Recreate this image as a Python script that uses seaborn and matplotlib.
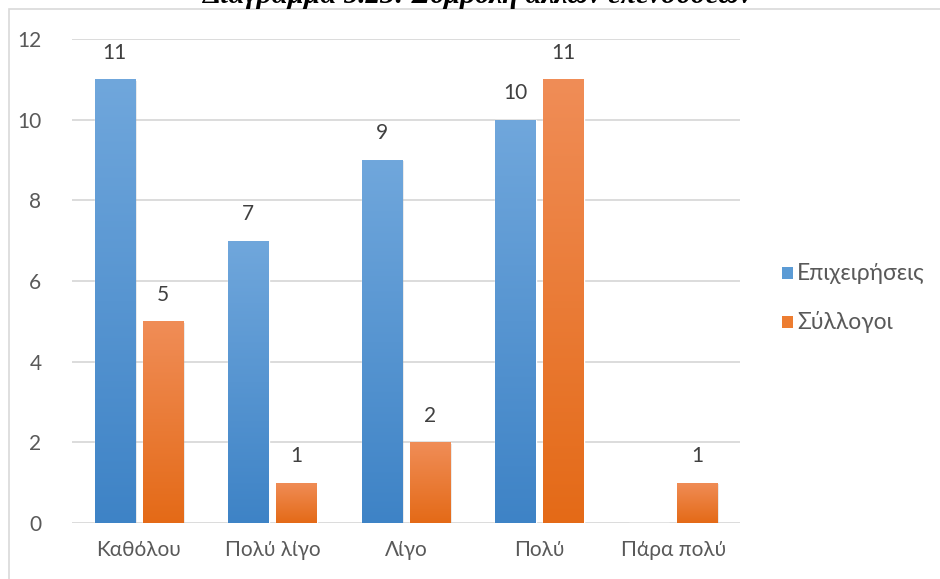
import numpy as np
import pandas as pd
import matplotlib
matplotlib.use("Agg")
import matplotlib.pyplot as plt
import seaborn as sns
from matplotlib.patches import Rectangle
from matplotlib.colors import LinearSegmentedColormap

categories = ["Καθόλου", "Πολύ λίγο", "Λίγο", "Πολύ", "Πάρα πολύ"]
series_names = ["Επιχειρήσεις", "Σύλλογοι"]
epixeiriseis = [11, 7, 9, 10, 0]
syllogoi = [5, 1, 2, 11, 1]
yticks = [0, 2, 4, 6, 8, 10, 12]
title = "Διάγραμμα 5.23: Συμβολή άλλων επενδύσεων"

df = pd.DataFrame({
    "cat": categories * 2,
    "series": [series_names[0]] * len(categories) + [series_names[1]] * len(categories),
    "value": epixeiriseis + syllogoi,
})

sns.set_theme(style="white")
plt.rcParams["font.family"] = ["Lato", "DejaVu Sans"]

W, H = 940, 579
fig = plt.figure(figsize=(W / 100, H / 100), dpi=100)
ax = fig.add_axes([72 / W, 1 - 523 / H, (740 - 72) / W, (523 - 39) / H])

blue = "#5b9bd5"
orange = "#ed7d31"
sns.barplot(data=df, x="cat", y="value", hue="series", order=categories,
            hue_order=series_names, palette=[blue, orange], ax=ax,
            width=0.72, gap=0.16, legend=False, saturation=1)

ax.set_ylim(0, 12)
ax.set_xlim(-0.5, len(categories) - 0.5)
ax.set_yticks(yticks)
ax.yaxis.grid(True, color="#d9d9d9", lw=1.3)
ax.set_axisbelow(True)
for s in ax.spines.values():
    s.set_visible(False)
ax.set_xlabel("")
ax.set_ylabel("")
ax.tick_params(axis="both", length=0, colors="#595959", labelsize=15)
ax.tick_params(axis="y", pad=22)
ax.tick_params(axis="x", pad=12)

cmaps = {
    0: LinearSegmentedColormap.from_list("b", ["#3e83c6", "#70a7dc"]),
    1: LinearSegmentedColormap.from_list("o", ["#e46a17", "#f08d57"]),
}
grad = np.linspace(0, 1, 256).reshape(-1, 1)
n = len(categories)
for i, p in enumerate(ax.patches[: 2 * n]):
    h = p.get_height()
    if h <= 0:
        continue
    x0 = p.get_x()
    w = p.get_width()
    sh = Rectangle((x0 + 0.012, 0), w, h - 0.03, color="black", alpha=0.10, zorder=1.5, lw=0)
    ax.add_patch(sh)
    p.set_zorder(2)
    im = ax.imshow(grad, extent=[x0, x0 + w, 0, h], origin="lower", aspect="auto",
                   cmap=cmaps[i // n], zorder=2.1)
    im.set_clip_path(p)
    ax.annotate(f"{int(h)}", (x0 + w / 2, h), xytext=(0, 12), textcoords="offset points",
                ha="center", va="bottom", fontsize=15, color="#404040")
ax.set_xlim(-0.5, len(categories) - 0.5)
ax.set_ylim(0, 12)

# legend
for k, (name, col) in enumerate(zip(series_names, [blue, orange])):
    yy = 1 - (273 + 49 * k) / H
    fig.patches.append(Rectangle((782 / W, yy - 6 / H), 11 / W, 12 / H, transform=fig.transFigure,
                                 color=col, lw=0))
    fig.text(797 / W, yy, name, ha="left", va="center", fontsize=16.5, color="#595959")

# border
fig.patches.append(Rectangle((8.5 / W, -0.1), 1.2, 1.1 - 9.5 / H, transform=fig.transFigure,
                             fill=False, edgecolor="#d9d9d9", lw=1.2))
# title, partly above the top edge as in the reference
fig.text(478 / W, 1 - 3 / H, title, ha="center", va="baseline", fontsize=21,
         fontweight="bold", fontstyle="italic", family=["Liberation Serif", "DejaVu Serif"], color="black")

fig.savefig("out.png", dpi=100)
